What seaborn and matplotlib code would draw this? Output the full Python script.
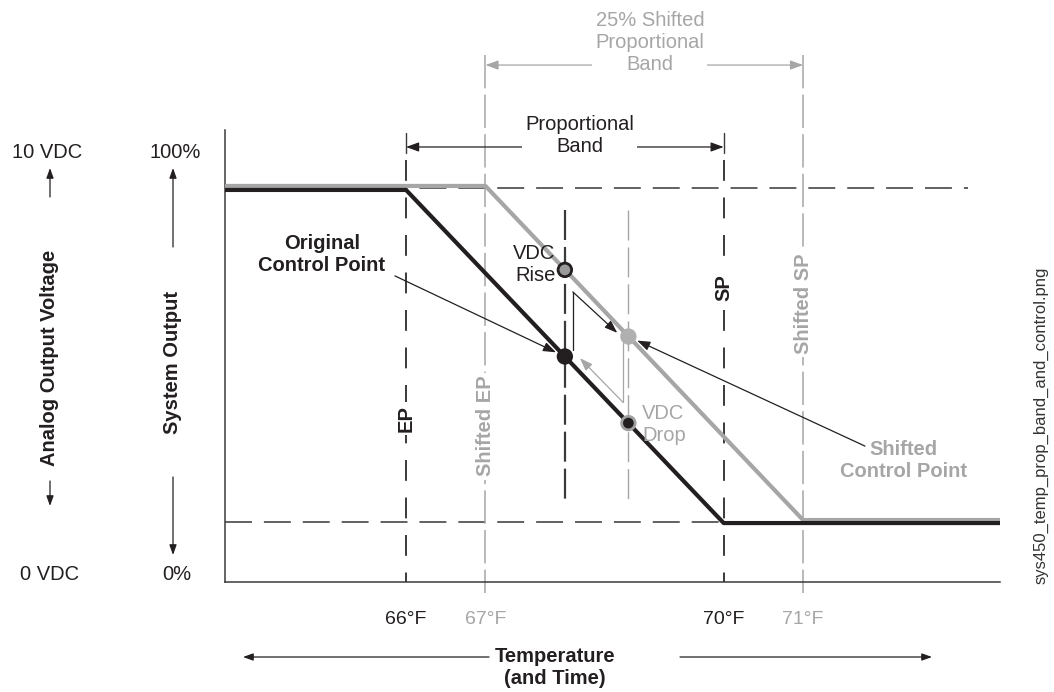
import matplotlib
matplotlib.use("Agg")
import matplotlib.pyplot as plt
import pandas as pd
import seaborn as sns

# Output curves: temperature (°F) against system output (%)
original_temp = [63.72, 66.0, 70.0, 73.48]
original_output = [100.0, 100.0, 0.0, 0.0]
shifted_temp = [63.72, 67.0, 71.0, 73.48]
shifted_output = [101.2, 101.2, 0.9, 0.9]

# Control points on the two curves
control_names = ["Original", "VDC Rise", "Shifted", "VDC Drop"]
control_temp = [68.0, 68.0, 68.8, 68.8]
control_output = [50.0, 76.0, 56.0, 30.0]

# Band limits
ep_temp, sp_temp = 66.0, 70.0
shifted_ep_temp, shifted_sp_temp = 67.0, 71.0

tick_temps = [66, 67, 70, 71]
tick_labels = ["66°F", "67°F", "70°F", "71°F"]

BLACK = "#231f20"
GRAY = "#a6a6a6"
DARK = "#3a3a3a"

sns.set_theme(style="white")
plt.rcParams["font.family"] = ["Liberation Sans", "DejaVu Sans"]
plt.rcParams["lines.scale_dashes"] = False

W, H = 1054, 692
fig = plt.figure(figsize=(W / 100, H / 100), dpi=100)
ax = fig.add_axes([225 / W, 110 / H, 775 / W, 452 / H])
ax.set_xlim(63.72, 73.48)
ax.set_ylim(-17.7, 118.0)


def fx(px):
    return px / W


def fy(py):
    return 1 - py / H


FS = 14.5
bold = dict(fontsize=FS, fontweight="bold")
white_box = dict(boxstyle="square,pad=0.15", fc="white", ec="none")

# Reference levels (100 % and 0 %)
ax.plot([63.72, 73.08], [100.6, 100.6], color="#555555", lw=1.3,
        dashes=(19.4, 8.6), zorder=2)
ax.plot([63.72, sp_temp], [0.3, 0.3], color="#555555", lw=1.3,
        dashes=(19.4, 8.6), zorder=2)

# EP / SP markers
for t in (ep_temp, sp_temp):
    ax.plot([t, t], [109.0, -17.7], color=DARK, lw=1.4, dashes=(15, 12),
            clip_on=False, zorder=2)
    ax.plot([t, t], [111.1, 117.1], color=DARK, lw=1.0, clip_on=False, zorder=2)
for t in (shifted_ep_temp, shifted_sp_temp):
    ax.plot([t, t], [140.5, -21.0], color=GRAY, lw=1.1, dashes=(24, 4.5),
            clip_on=False, zorder=2)

# Control point verticals
ax.plot([control_temp[0]] * 2, [94.0, 6.3], color=DARK, lw=1.6,
        dashes=(21.6, 5), zorder=2)
ax.plot([control_temp[2]] * 2, [94.0, 6.3], color=GRAY, lw=1.0,
        dashes=(21.6, 5), zorder=2)

# Output curves
curves = pd.DataFrame({
    "temp": shifted_temp + original_temp,
    "output": shifted_output + original_output,
    "curve": ["Shifted"] * len(shifted_temp) + ["Original"] * len(original_temp),
})
sns.lineplot(data=curves, x="temp", y="output", hue="curve",
             hue_order=["Shifted", "Original"],
             palette={"Shifted": GRAY, "Original": BLACK},
             estimator=None, sort=False, linewidth=3.0, legend=False,
             ax=ax, zorder=5)

# Control point markers
fills = {"Original": BLACK, "VDC Rise": "#9a9a9a", "Shifted": "#b0b0b0",
         "VDC Drop": BLACK}
edges = [BLACK, BLACK, "#b0b0b0", "#a0a0a0"]
sns.scatterplot(x=control_temp, y=control_output, hue=control_names,
                palette=fills, s=95, edgecolor=edges, linewidth=2.0,
                legend=False, ax=ax, zorder=8)

# Band arrows
arrow_kw = dict(arrowstyle="<|-|>,head_length=0.55,head_width=0.2",
                shrinkA=0, shrinkB=0, mutation_scale=14)
ax.annotate("", xy=(ep_temp, 112.9), xytext=(sp_temp, 112.9),
            arrowprops=dict(color=BLACK, lw=0.9, **arrow_kw),
            annotation_clip=False)
ax.text(68.19, 116.4, "Proportional\nBand", ha="center", va="center",
        fontsize=FS, color=BLACK, bbox=white_box, clip_on=False, zorder=6)
ax.annotate("", xy=(shifted_ep_temp, 137.5), xytext=(shifted_sp_temp, 137.5),
            arrowprops=dict(color=GRAY, lw=0.9, **arrow_kw),
            annotation_clip=False)
ax.text(69.07, 144.4, "25% Shifted\nProportional\nBand", ha="center",
        va="center", fontsize=FS, color=GRAY, bbox=white_box, clip_on=False,
        zorder=6)

# Labels on the vertical lines
ax.text(ep_temp, 31.5, "EP", rotation=90, ha="center", va="center",
        color=BLACK, bbox=white_box, zorder=6, **bold)
ax.text(shifted_ep_temp, 29.1, "Shifted EP", rotation=90, ha="center",
        va="center", color=GRAY, bbox=white_box, zorder=6, **bold)
ax.text(sp_temp, 70.6, "SP", rotation=90, ha="center", va="center",
        color=BLACK, bbox=white_box, zorder=6, **bold)
ax.text(shifted_sp_temp, 65.8, "Shifted SP", rotation=90, ha="center",
        va="center", color=GRAY, bbox=white_box, zorder=6, **bold)

# Control point callouts
lead_kw = dict(arrowstyle="-|>,head_length=0.55,head_width=0.2",
               shrinkA=0, shrinkB=7, mutation_scale=14)
ax.text(64.94, 80.5, "Original\nControl Point", ha="center", va="center",
        color=BLACK, **bold)
ax.annotate("", xy=(control_temp[0], control_output[0]), xytext=(65.86, 74.2),
            arrowprops=dict(color=BLACK, lw=0.9, **lead_kw))
ax.text(72.26, 18.9, "Shifted\nControl Point", ha="center", va="center",
        color=GRAY, **bold)
ax.annotate("", xy=(control_temp[2], control_output[2]), xytext=(71.78, 23.1),
            arrowprops=dict(color=BLACK, lw=0.9, **lead_kw))

ax.text(67.88, 77.5, "VDC\nRise", ha="right", va="center", fontsize=FS,
        color=BLACK, zorder=9)
ax.text(68.97, 29.7, "VDC\nDrop", ha="left", va="center", fontsize=FS,
        color=GRAY, zorder=9)

# Shift paths between the two control points
step_kw = dict(arrowstyle="-|>,head_length=0.55,head_width=0.2",
               shrinkA=0, shrinkB=0, mutation_scale=14)
ax.plot([68.10, 68.10], [52.0, 69.4], color=BLACK, lw=0.9, zorder=4)
ax.annotate("", xy=(68.66, 57.1), xytext=(68.10, 69.4),
            arrowprops=dict(color=BLACK, lw=0.9, **step_kw))
ax.plot([68.73, 68.73], [54.1, 36.3], color=GRAY, lw=0.9, zorder=4)
ax.annotate("", xy=(68.19, 49.5), xytext=(68.73, 36.3),
            arrowprops=dict(color=GRAY, lw=0.9, **step_kw))

# Axes styling
sns.despine(ax=ax)
for side in ("left", "bottom"):
    ax.spines[side].set_color(DARK)
    ax.spines[side].set_linewidth(1.1)
ax.set_yticks([])
ax.set_xticks(tick_temps, tick_labels)
ax.tick_params(axis="x", length=0, pad=21, labelsize=14)
for lbl, c in zip(ax.get_xticklabels(), [BLACK, GRAY, BLACK, GRAY]):
    lbl.set_color(c)
ax.set_xlabel("")
ax.set_ylabel("")

# Outer axis captions
fig.text(fx(47), fy(153), "10 VDC", ha="center", va="center", fontsize=FS,
         color=BLACK)
fig.text(fx(50), fy(575), "0 VDC", ha="center", va="center", fontsize=FS,
         color=BLACK)
fig.text(fx(50), fy(358), "Analog Output Voltage", rotation=90, ha="center",
         va="center", color=BLACK, **bold)
fig.text(fx(175), fy(153), "100%", ha="center", va="center", fontsize=FS,
         color=BLACK)
fig.text(fx(177), fy(575), "0%", ha="center", va="center", fontsize=FS,
         color=BLACK)
fig.text(fx(173), fy(363), "System Output", rotation=90, ha="center",
         va="center", color=BLACK, **bold)
fig.text(fx(555), fy(668), "Temperature\n(and Time)", ha="center",
         va="center", color=BLACK, **bold)
fig.text(fx(1041), fy(425), "sys450_temp_prop_band_and_control.png",
         rotation=90, ha="center", va="center", fontsize=12, color="#333333")

side_kw = dict(arrowstyle="-|>,head_length=0.5,head_width=0.18",
               shrinkA=0, shrinkB=0, mutation_scale=12, color=BLACK, lw=0.9)
for (x0, y0), (x1, y1) in [((50, 197), (50, 168)), ((50, 481), (50, 506)),
                           ((173, 247), (173, 168)), ((173, 477), (173, 555)),
                           ((489, 657), (243, 657)), ((680, 657), (932, 657))]:
    ax.annotate("", xy=(fx(x1), fy(y1)), xycoords="figure fraction",
                xytext=(fx(x0), fy(y0)), textcoords="figure fraction",
                arrowprops=side_kw, annotation_clip=False)

fig.savefig("out.png", dpi=100)
